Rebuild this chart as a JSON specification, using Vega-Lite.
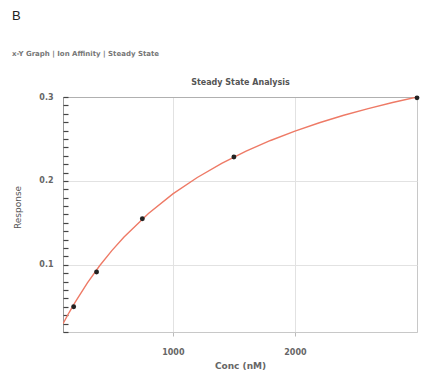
{
  "$schema": "https://vega.github.io/schema/vega-lite/v6.json",
  "autosize": "none",
  "width": 354,
  "height": 235,
  "padding": {"left": 63, "top": 97, "right": 5, "bottom": 40},
  "background": "white",
  "config": {
    "view": {"stroke": "#c8c8c8", "strokeWidth": 1},
    "font": "DejaVu Sans"
  },
  "title": {
    "text": "B",
    "anchor": "start",
    "frame": "group",
    "dx": -51,
    "offset": 21,
    "font": "Liberation Sans",
    "fontSize": 13,
    "fontWeight": "normal",
    "color": "#222",
    "subtitle": "x-Y Graph  |  Ion Affinity  |  Steady State",
    "subtitleFont": "DejaVu Sans",
    "subtitleFontSize": 7,
    "subtitleFontWeight": "bold",
    "subtitleColor": "#777",
    "subtitlePadding": 27
  },
  "datasets": {
    "curve": [
      {"conc": 100, "response": 0.0298},
      {"conc": 150, "response": 0.0432},
      {"conc": 200, "response": 0.0557},
      {"conc": 300, "response": 0.0786},
      {"conc": 400, "response": 0.0989},
      {"conc": 500, "response": 0.1170},
      {"conc": 600, "response": 0.1332},
      {"conc": 800, "response": 0.1612},
      {"conc": 1000, "response": 0.1845},
      {"conc": 1200, "response": 0.2041},
      {"conc": 1400, "response": 0.2210},
      {"conc": 1600, "response": 0.2355},
      {"conc": 1800, "response": 0.2482},
      {"conc": 2000, "response": 0.2594},
      {"conc": 2200, "response": 0.2693},
      {"conc": 2400, "response": 0.2782},
      {"conc": 2600, "response": 0.2862},
      {"conc": 2800, "response": 0.2934},
      {"conc": 3000, "response": 0.3000}
    ],
    "points": [
      {"conc": 187.5, "response": 0.050},
      {"conc": 375, "response": 0.0915},
      {"conc": 750, "response": 0.155},
      {"conc": 1500, "response": 0.2285},
      {"conc": 3000, "response": 0.299}
    ]
  },
  "layer": [
    {
      "data": {"name": "curve"},
      "mark": {"type": "line", "color": "#ee7a66", "strokeWidth": 1.4, "clip": true},
      "encoding": {
        "x": {
          "field": "conc",
          "type": "quantitative",
          "scale": {"domain": [100, 3000], "nice": false, "zero": false},
          "axis": {
            "orient": "bottom",
            "title": "Conc (nM)",
            "values": [1000, 2000],
            "format": "d",
            "grid": true,
            "gridColor": "#e2e2e2",
            "domainColor": "#c8c8c8",
            "tickColor": "#bbb",
            "tickSize": 4,
            "labelPadding": 12,
            "labelFontSize": 8,
            "labelFontWeight": "bold",
            "labelColor": "#666",
            "titleFontSize": 9,
            "titleFontWeight": "bold",
            "titleColor": "#666",
            "titlePadding": 5
          }
        },
        "y": {
          "field": "response",
          "type": "quantitative",
          "scale": {"domain": [0.02, 0.3], "nice": false, "zero": false},
          "axis": {
            "orient": "left",
            "title": "Response",
            "values": [0.1, 0.2, 0.3],
            "format": ".1f",
            "grid": true,
            "gridColor": "#e2e2e2",
            "ticks": false,
            "domainColor": "#999",
            "labelPadding": 10,
            "labelFontSize": 8,
            "labelFontWeight": "bold",
            "labelColor": "#666",
            "labelOverlap": false,
            "titleFontSize": 9,
            "titleFontWeight": "normal",
            "titleColor": "#555",
            "titlePadding": 16,
            "titleY": 110
          }
        }
      }
    },
    {
      "data": {"name": "points"},
      "mark": {"type": "circle", "color": "#222", "size": 24, "opacity": 1, "clip": false},
      "encoding": {
        "x": {
          "field": "conc",
          "type": "quantitative",
          "axis": {
            "orient": "top",
            "title": "Steady State Analysis",
            "labels": false,
            "ticks": false,
            "grid": false,
            "domainColor": "#b0b0b0",
            "titleFontSize": 8,
            "titleFontWeight": "bold",
            "titleColor": "#555",
            "titlePadding": 11
          }
        },
        "y": {
          "field": "response",
          "type": "quantitative",
          "axis": {
            "orient": "left",
            "offset": -5,
            "title": null,
            "values": [0.02, 0.03, 0.04, 0.05, 0.06, 0.07, 0.08, 0.09, 0.1, 0.11, 0.12, 0.13, 0.14, 0.15, 0.16, 0.17, 0.18, 0.19, 0.2, 0.21, 0.22, 0.23, 0.24, 0.25, 0.26, 0.27, 0.28, 0.29, 0.3],
            "labels": false,
            "domain": false,
            "grid": false,
            "ticks": true,
            "tickSize": 5,
            "tickWidth": 1.2,
            "tickColor": "#444",
            "tickOpacity": 1
          }
        }
      }
    }
  ],
  "resolve": {"axis": {"x": "independent", "y": "independent"}}
}
